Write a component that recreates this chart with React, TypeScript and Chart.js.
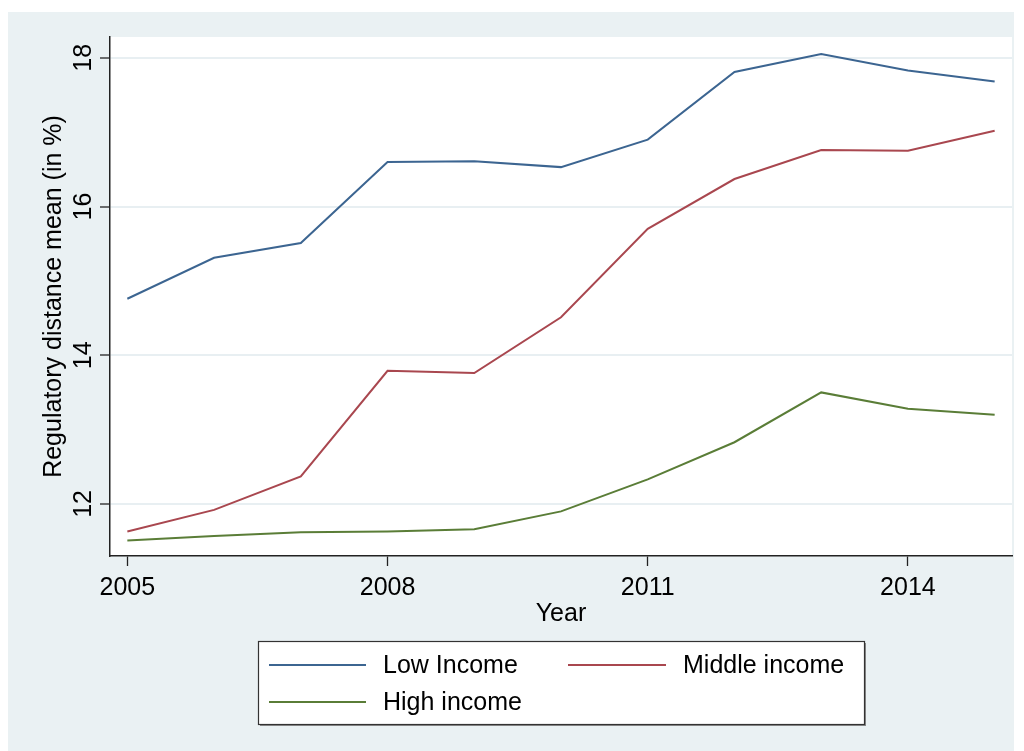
import React, { useEffect, useRef } from "react";
import { Chart, registerables } from "chart.js";

Chart.register(...registerables);

const years = [2005, 2006, 2007, 2008, 2009, 2010, 2011, 2012, 2013, 2014, 2015];
const lowIncome = [14.76, 15.31, 15.51, 16.6, 16.61, 16.53, 16.9, 17.81, 18.05, 17.83, 17.68];
const middleIncome = [11.63, 11.92, 12.37, 13.79, 13.76, 14.51, 15.7, 16.37, 16.76, 16.75, 17.02];
const highIncome = [11.51, 11.57, 11.62, 11.63, 11.66, 11.9, 12.33, 12.83, 13.5, 13.28, 13.2];
const seriesLabels = ["Low Income", "Middle income", "High income"];
const seriesColors = ["#3c6591", "#a9474f", "#5a7d37"];
const xTicks = [2005, 2008, 2011, 2014];
const yTicks = [12, 14, 16, 18];
const yTitle = "Regulatory distance mean (in %)";
const xTitle = "Year";

const FONT = '"Liberation Sans", Arial, sans-serif';

const decorPlugin = {
  id: "decor",
  beforeDraw(chart: any) {
    const { ctx, chartArea } = chart;
    ctx.save();
    ctx.fillStyle = "#ffffff";
    ctx.fillRect(0, 0, chart.width, chart.height);
    ctx.fillStyle = "#eaf1f3";
    ctx.fillRect(8, 12, 1006, chart.height - 12);
    ctx.fillStyle = "#ffffff";
    ctx.fillRect(chartArea.left, chartArea.top, chartArea.right - chartArea.left, chartArea.bottom - chartArea.top);
    ctx.restore();
  },
  afterDraw(chart: any) {
    const { ctx } = chart;
    const yScale = chart.scales.y;
    ctx.save();
    ctx.fillStyle = "#000000";
    ctx.font = `25px ${FONT}`;
    ctx.textAlign = "center";
    ctx.textBaseline = "alphabetic";
    // y tick labels, rotated
    yTicks.forEach((v) => {
      const py = yScale.getPixelForValue(v);
      ctx.save();
      ctx.translate(91, py);
      ctx.rotate(-Math.PI / 2);
      ctx.fillText(String(v), 0, 0);
      ctx.restore();
    });
    // y title
    ctx.save();
    ctx.translate(60.5, (yScale.top + yScale.bottom) / 2);
    ctx.rotate(-Math.PI / 2);
    ctx.fillText(yTitle, 0, 0);
    ctx.restore();

    // legend
    const bx = 258.5, by = 641.5, bw = 606, bh = 83;
    ctx.fillStyle = "#8a8a8a";
    ctx.fillRect(bx + 1.5, by + 1.5, bw, bh);
    ctx.fillStyle = "#ffffff";
    ctx.fillRect(bx, by, bw, bh);
    ctx.strokeStyle = "#333333";
    ctx.lineWidth = 1.2;
    ctx.strokeRect(bx, by, bw, bh);
    const items = [
      { x0: 269, x1: 366, tx: 383, y: 665 },
      { x0: 568, x1: 666, tx: 683, y: 665 },
      { x0: 269, x1: 366, tx: 383, y: 702 },
    ];
    chart.data.datasets.forEach((ds: any, i: number) => {
      const it = items[i];
      ctx.strokeStyle = ds.borderColor;
      ctx.lineWidth = 2;
      ctx.beginPath();
      ctx.moveTo(it.x0, it.y);
      ctx.lineTo(it.x1, it.y);
      ctx.stroke();
      ctx.fillStyle = "#000000";
      ctx.textAlign = "left";
      ctx.textBaseline = "middle";
      ctx.font = `25px ${FONT}`;
      ctx.fillText(ds.label, it.tx, it.y + 1.5);
    });
    ctx.restore();
  },
};

export default function App() {
  const ref = useRef<HTMLCanvasElement | null>(null);
  useEffect(() => {
    if (!ref.current) return;
    const mk = (vals: number[]) => years.map((y, i) => ({ x: y, y: vals[i] }));
    const chart = new Chart(ref.current, {
      type: "line",
      data: {
        datasets: [lowIncome, middleIncome, highIncome].map((vals, i) => ({
          label: seriesLabels[i],
          data: mk(vals),
          borderColor: seriesColors[i],
          backgroundColor: seriesColors[i],
          borderWidth: 2,
          pointRadius: 0,
          tension: 0,
          fill: false,
        })),
      },
      options: {
        animation: false,
        responsive: false,
        devicePixelRatio: 1,
        layout: { padding: { left: 0, top: 37, right: 12, bottom: 0 } },
        plugins: { legend: { display: false }, tooltip: { enabled: false }, title: { display: false } },
        scales: {
          x: {
            type: "linear",
            min: 2004.8,
            max: 2015.2,
            afterBuildTicks: (s: any) => {
              s.ticks = xTicks.map((v) => ({ value: v }));
            },
            afterFit: (s: any) => {
              s.height = 195;
            },
            ticks: {
              color: "#000000",
              font: { family: FONT, size: 25 },
              padding: 7,
              maxRotation: 0,
              autoSkip: false,
              callback: (v: any) => String(v),
            },
            grid: { drawOnChartArea: false, drawTicks: true, tickLength: 10, tickColor: "#222222", tickWidth: 1.3 },
            border: { display: true, color: "#222222", width: 1.5 },
            title: {
              display: true,
              text: xTitle,
              color: "#000000",
              font: { family: FONT, size: 25 },
              padding: { top: 0, bottom: 122 },
            },
          },
          y: {
            type: "linear",
            min: 11.3,
            max: 18.28,
            afterBuildTicks: (s: any) => {
              s.ticks = yTicks.map((v) => ({ value: v }));
            },
            afterFit: (s: any) => {
              s.width = 110;
            },
            ticks: { display: false },
            grid: { color: "#e8eff2", lineWidth: 2, drawTicks: true, tickLength: 10, tickColor: "#222222", tickWidth: 1.3 },
            border: { display: true, color: "#222222", width: 1.5 },
          },
        },
      },
      plugins: [decorPlugin],
    } as any);
    return () => chart.destroy();
  }, []);
  return (
    <div style={{ position: "absolute", left: 0, top: 0, width: 1024, height: 751 }}>
      <canvas ref={ref} width={1024} height={751} style={{ width: 1024, height: 751, display: "block" }} />
    </div>
  );
}
